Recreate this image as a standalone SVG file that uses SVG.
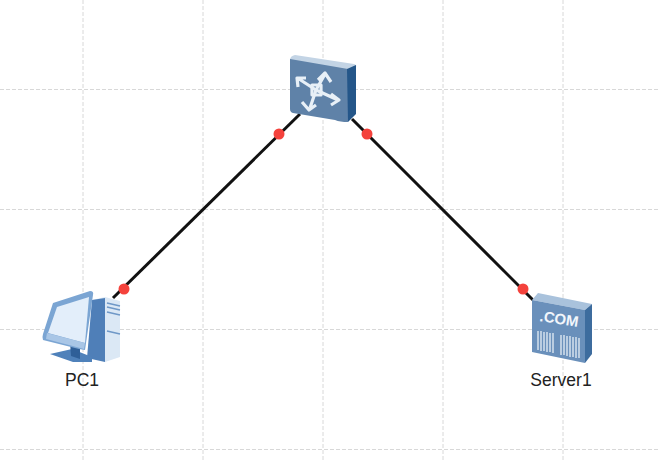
<svg xmlns="http://www.w3.org/2000/svg" width="660" height="461" viewBox="0 0 660 461">
<style>
.grid{stroke:#d8d8d8;stroke-width:1;stroke-dasharray:4 2;fill:none}
.link{stroke:#111;stroke-width:3;fill:none}
.dot{fill:#f4423c}
.label{font-family:"Liberation Sans",Arial,sans-serif;font-size:17.500px;fill:#222;text-anchor:middle}
.arrow{fill:none;stroke:#e8f0f7;stroke-width:3.200;stroke-linejoin:round}
.bar{stroke:#d5e1ee;stroke-width:1.500;fill:none}
</style>
<rect width="660" height="461" fill="#fff"/>
<g id="grid">
<path class="grid" d="M83 0V461M203 0V461M323 0V461M443 0V461M563 0V461M0 89.500H660M0 209.500H660M0 329.500H660M0 449.500H660"/>
</g>
<g id="connectors">
<path class="link" d="M300 114L113 298"/>
<path class="link" d="M352 119L533 300"/>
<circle class="dot" cx="279" cy="134" r="5.500"/>
<circle class="dot" cx="367" cy="134" r="5.500"/>
<circle class="dot" cx="124" cy="289" r="5.500"/>
<circle class="dot" cx="523" cy="289" r="5.500"/>
</g>
<g id="switch">
<path d="M290 60Q290 56 295 55L354 64Q357 65 356 67L347 70Z" fill="#c3d4e5"/>
<path d="M290 59L348 69V122Q340 122 335 120L293 113Q290 112 290 109Z" fill="#5f82a8"/>
<path d="M347 69L356 65V114L348 122Z" fill="#245689"/>
<g class="arrow">
<path d="M316 90L299 79M298 87L297 78H306"/>
<path d="M316 90L325 74M318 80L325 73L331 82"/>
<path d="M316 90L338 100M331 94L339 100L331 105"/>
<path d="M316 90L310 108M302 102L309 110L316 105"/>
<rect x="312" y="85" width="9" height="10"/>
</g>
</g>
<g id="pc1">
<path d="M92 300L105 297L120 301V357L105 362Z" fill="#dbe8f5"/>
<path d="M92 300L105 298V362L87 358Z" fill="#4f7fb8"/>
<path d="M107 303L120 306M107 307L120 310M107 312L120 315M107 331L120 334" stroke="#6f98c7" stroke-width="1.500" fill="none"/>
<path d="M50 354L72 349L92 357V362L73 362Z" fill="#4f81ba"/>
<path d="M70 342L80 346V359L71 356Z" fill="#2f5f98"/>
<path d="M53 303L90 291Q94 291 93 295L85 350L79 349L43 340Q42 337 43 334Z" fill="#7ba5d3"/>
<path d="M57 307L89 297L85 343L48 333Z" fill="#e3eefa"/>
<path d="M47 333L85 343L84 349L46 339Z" fill="#a9c6e6"/>
<text class="label" x="82" y="386">PC1</text>
</g>
<g id="server1">
<path d="M532 300L538 293L592 304L585 310Z" fill="#a9c2dc"/>
<path d="M532 300L585 310V363L532 352Z" fill="#6a90bb"/>
<path d="M585 310L592 304V354L585 363Z" fill="#3d6c9e"/>
<text x="559" y="324" font-family="'Liberation Sans',Arial,sans-serif" font-size="15" font-weight="700" fill="#f2f6fb" text-anchor="middle" transform="rotate(9 559 320)">.COM</text>
<path class="bar" d="M538 331V350M541 331V351M544 332V351M547 332V352M550 333V352M553 333V353M561 335V355M564 335V355M567 336V356M570 336V357M573 337V357M576 337V358M579 338V358"/>
<text class="label" x="561" y="386">Server1</text>
</g>
</svg>
